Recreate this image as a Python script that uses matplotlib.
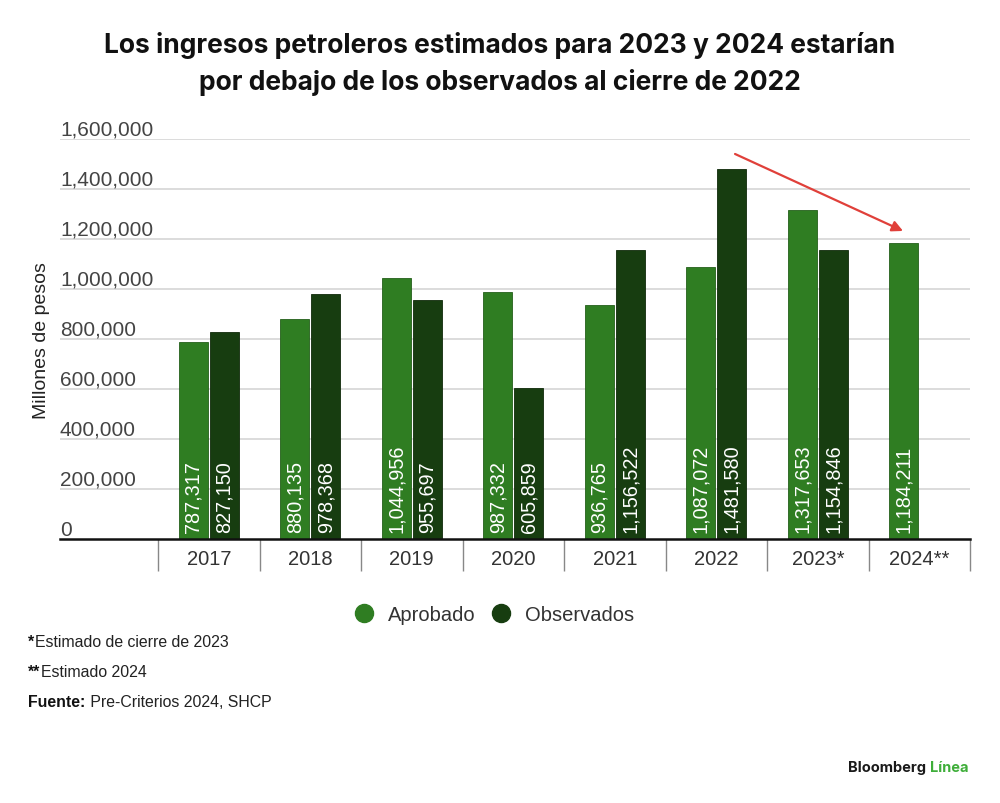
import numpy as np
import matplotlib
matplotlib.use("Agg")
import matplotlib.pyplot as plt
import matplotlib.transforms as mtransforms
from matplotlib.lines import Line2D

years = ["2017", "2018", "2019", "2020", "2021", "2022", "2023*", "2024**"]
aprobado = [787317, 880135, 1044956, 987332, 936765, 1087072, 1317653, 1184211]
observados = [827150, 978368, 955697, 605859, 1156522, 1481580, 1154846, None]
yticks = [0, 200000, 400000, 600000, 800000, 1000000, 1200000, 1400000, 1600000]

light = "#2f7d22"
dark = "#173d10"
body = ["Liberation Sans", "DejaVu Sans"]

fig = plt.figure(figsize=(10, 8.04), dpi=100)
ax = fig.add_axes([0.06, 0.3284, 0.91, 0.4975])

x = np.arange(len(years))
w = 0.285
off = 0.152

def fmt(v):
    return "{:,}".format(v)

lift = ax.transData + mtransforms.ScaledTranslation(0, 7 / 100, fig.dpi_scale_trans)
for i in range(len(years)):
    a = aprobado[i]
    ax.bar(x[i] - off, a, width=w, color=light, edgecolor="#245f1a", linewidth=0.6, zorder=3)
    ax.text(x[i] - off, 0, fmt(a), rotation=90, ha="center", va="bottom", color="white",
            fontsize=14.3, family=body, zorder=4, transform=lift)
    o = observados[i]
    if o is not None:
        ax.bar(x[i] + off, o, width=w, color=dark, edgecolor="#0f2a0a", linewidth=0.6, zorder=3)
        ax.text(x[i] + off, 0, fmt(o), rotation=90, ha="center", va="bottom", color="white",
                fontsize=14.3, family=body, zorder=4, transform=lift)

ax.set_xlim(-1.466, len(years) - 0.5)
ax.set_ylim(0, 1600000)

for s in ["top", "right", "left"]:
    ax.spines[s].set_visible(False)
ax.spines["bottom"].set_color("#111111")
ax.spines["bottom"].set_linewidth(1.8)
ax.spines["bottom"].set_zorder(5)

# gridlines + y labels sitting above them
for t in yticks[1:]:
    ax.axhline(t, color="#d6d6d6", linewidth=1.2, zorder=1)
lab_tr = mtransforms.blended_transform_factory(ax.transAxes, ax.transData) + \
    mtransforms.ScaledTranslation(0, 4 / 100, fig.dpi_scale_trans)
for t in yticks:
    ax.text(0, t, fmt(t), ha="left", va="baseline", fontsize=15, family=body,
            color="#444444", transform=lab_tr)
ax.set_yticks([])

ax.set_xticks(x)
ax.set_xticklabels(years, fontsize=14.5, family=body, color="#333333")
ax.set_xticks(np.arange(len(years) + 1) - 0.5, minor=True)
ax.tick_params(axis="x", which="major", length=0, pad=7)
ax.tick_params(axis="x", which="minor", length=23, width=1, color="#888888", direction="out")

fig.text(0.042, 0.577, "Millones de pesos", rotation=90, ha="center", va="center",
         fontsize=14, family=body, color="#222222")

# title
fig.text(0.5, 0.944, "Los ingresos petroleros estimados para 2023 y 2024 estarían",
         ha="center", va="center", fontsize=19, fontweight="bold", family=["Inter", "DejaVu Sans"],
         color="#111111")
fig.text(0.5, 0.897, "por debajo de los observados al cierre de 2022",
         ha="center", va="center", fontsize=19, fontweight="bold", family=["Inter", "DejaVu Sans"],
         color="#111111")

# red trend arrow
ax.annotate("", xy=(6.84, 1232000), xytext=(5.185, 1540000),
            arrowprops=dict(arrowstyle="-|>", color="#e0403a", lw=1.6, mutation_scale=16,
                            shrinkA=0, shrinkB=0), zorder=6)

# legend
handles = [Line2D([], [], marker="o", linestyle="", markersize=13, color=light),
           Line2D([], [], marker="o", linestyle="", markersize=13, color=dark)]
leg = fig.legend(handles, ["Aprobado", "Observados"], loc="center", bbox_to_anchor=(0.489, 0.235),
                 ncol=2, frameon=False, handletextpad=0.15, columnspacing=0.3,
                 prop={"family": body, "size": 14.5})
for t in leg.get_texts():
    t.set_color("#333333")


def pair(xf, yf, bold, rest, size=11.5):
    t = fig.text(xf, yf, bold, fontsize=size, family=body, fontweight="bold",
                 color="#111111", va="center")
    fig.canvas.draw()
    bb = t.get_window_extent()
    fig.text((bb.x1 + 1) / 1000, yf, rest, fontsize=size, family=body,
             color="#222222", va="center")


# footnotes
pair(0.028, 0.201, "*", "Estimado de cierre de 2023", 11.4)
pair(0.028, 0.164, "**", "Estimado 2024", 11.4)
pair(0.028, 0.126, "Fuente:", " Pre-Criterios 2024, SHCP", 11.4)

# logo
t2 = fig.text(0.848, 0.045, "Bloomberg", fontsize=10.5, fontweight="bold",
              family=["Inter", "DejaVu Sans"], color="#1a1a1a", va="center")
fig.canvas.draw()
bb = t2.get_window_extent()
fig.text((bb.x1 + 4) / 1000, 0.045, "Línea", fontsize=10.5, fontweight="bold",
         family=["Inter", "DejaVu Sans"], color="#3fae3a", va="center")

fig.savefig("out.png", dpi=100)
